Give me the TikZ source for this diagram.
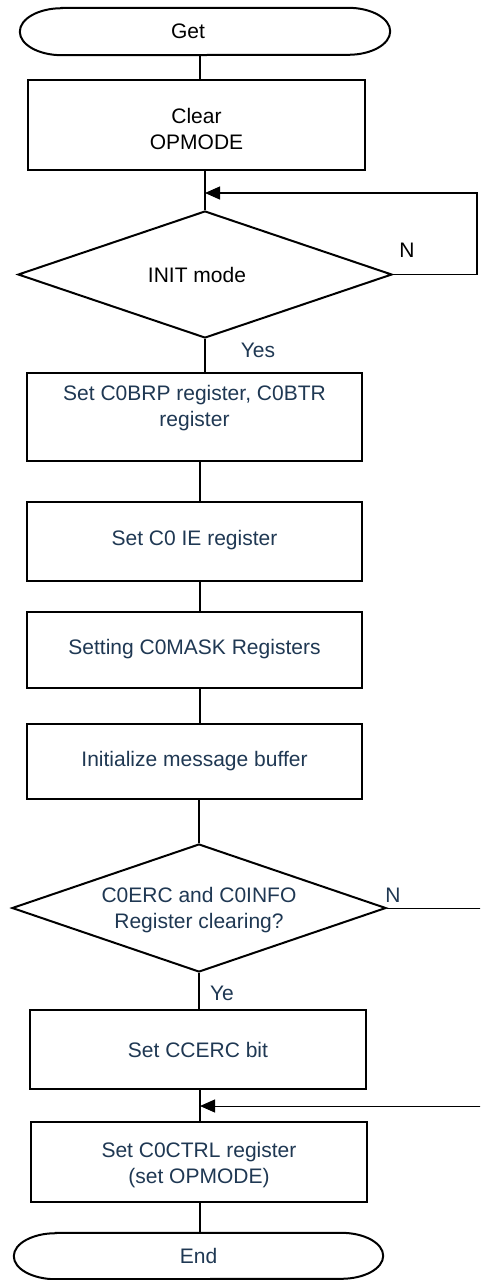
\documentclass[tikz,border=0pt]{standalone}
\usepackage{fontspec}
\setmainfont{Liberation Sans}
\usetikzlibrary{shapes.geometric,arrows.meta,calc}
\definecolor{navy}{RGB}{31,56,83}
\begin{document}
\begin{tikzpicture}[x=1pt,y=-1pt,
  every node/.style={font=\fontsize{21}{26}\selectfont, inner sep=0pt},
  box/.style={draw, line width=2.6pt, rectangle, minimum width=335pt, align=center, text=navy},
  termnode/.style={minimum width=370pt, minimum height=47pt},
  term/.style={line width=2pt},
  decision/.style={draw, diamond, aspect=2.9, line width=2pt, minimum width=374pt, minimum height=127pt, align=center},
  conn/.style={line width=1.5pt},
  loopa/.style={line width=1.3pt, -{Triangle[length=15pt,width=13pt]}},
  loopb/.style={line width=1pt, -{Triangle[length=15pt,width=13pt]}},
  lbl/.style={text=navy}
]
\useasboundingbox (0,0) rectangle (480,1280);
\clip (0,0) rectangle (480,1280);
\fill[white] (0,0) rectangle (480,1280);
\coordinate (axis) at (200,0);

% terminals
\node[termnode] (get) at (205,31.5) {\hspace*{-34pt}Get};
\draw[term] ($(get.north west)+(42pt,0)$) -- ($(get.north east)+(-42pt,0)$)
  arc[start angle=90,end angle=-90,x radius=42pt,y radius=23.5pt]
  -- ($(get.south west)+(42pt,0)$)
  arc[start angle=270,end angle=90,x radius=42pt,y radius=23.5pt] -- cycle;

\node[termnode, minimum width=369pt, minimum height=46pt, text=navy] (endt) at (198.5,1256) {End};
\draw[term] ($(endt.north west)+(42pt,0)$) -- ($(endt.north east)+(-42pt,0)$)
  arc[start angle=90,end angle=-90,x radius=42pt,y radius=23pt]
  -- ($(endt.south west)+(42pt,0)$)
  arc[start angle=270,end angle=90,x radius=42pt,y radius=23pt] -- cycle;

% process boxes
\node[box, text=black, minimum width=337pt, minimum height=90pt,
  label={[text=black,align=center,yshift=-4pt]center:Clear\\OPMODE}] (clear) at (196.5,125) {};
\node[box, minimum height=88pt,
  label={[text=navy,align=center,yshift=9pt]center:Set C0BRP register, C0BTR\\register}] (c0brp) at (194.5,417) {};
\node[box, minimum height=79pt] (c0ie) at (194.5,541.5) {\raisebox{8pt}{Set C0 IE register}};
\node[box, minimum height=76pt] (mask) at (194.5,650) {\raisebox{7pt}{Setting C0MASK Registers}};
\node[box, minimum height=75pt] (ibuf) at (194.5,761.5) {Initialize message buffer};
\node[box, minimum width=336pt, minimum height=79pt] (ccerc) at (198,1049.5) {Set CCERC bit};
\node[box, minimum width=336pt, minimum height=80pt,
  label={[text=navy,align=center,yshift=-3pt]center:Set C0CTRL register\\(set OPMODE)}] (c0ctrl) at (199,1162) {};

% decisions
\node[decision] (init) at (205,274.5) {\hspace*{-16pt}INIT mode};
\node[decision, minimum height=128pt,
  label={[text=navy,align=center,yshift=-2pt]center:C0ERC and C0INFO\\Register clearing?}] (d2) at (199,908) {};

% labels
\node (n1) at (407,250) {N};
\node[lbl] (n2) at (393,895) {N};
\node[lbl] (yes1) at (258,350) {Yes};
\node[lbl] (yes2) at (222,993) {Ye};

% connectors
\draw[conn] (get.south -| axis) -- (clear.north -| axis);
\draw[conn] (clear.south -| init.north) -- (init.north);
\draw[conn] (init.south) -- (init.south |- c0brp.north);
\draw[conn] (c0brp.south -| axis) -- (c0ie.north -| axis);
\draw[conn] (c0ie.south -| axis) -- (mask.north -| axis);
\draw[conn] (mask.south -| axis) -- (ibuf.north -| axis);
\draw[conn] (ibuf.south -| d2.north) -- (d2.north);
\draw[conn] (d2.south) -- (d2.south |- ccerc.north);
\draw[conn] (ccerc.south -| axis) -- (c0ctrl.north -| axis);
\draw[conn] (c0ctrl.south -| axis) -- (endt.north -| axis);

% loops
\coordinate (j1) at (205,193);
\draw[loopa] (init.east) -- ++(84,0) |- (j1);
\coordinate (j2) at (200,1106);
\draw[loopb] (d2.east) -- ++(130,0) |- (j2);
\end{tikzpicture}
\end{document}
